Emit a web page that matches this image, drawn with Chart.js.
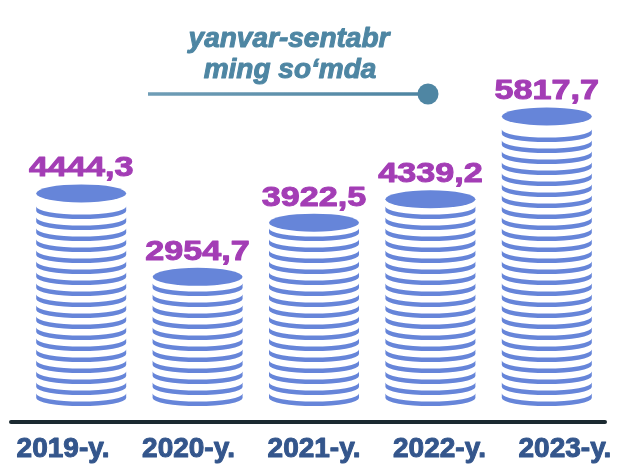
<!DOCTYPE html>
<html>
<head>
<meta charset="utf-8">
<script src="https://cdn.jsdelivr.net/npm/chart.js@4"></script>
<style>
  body { margin: 0; background: #fff; }
  #wrap { width: 620px; height: 464px; }
</style>
</head>
<body>
<div id="wrap"><canvas id="coins" width="620" height="464"></canvas></div>
<script>
    // data
    const years = ['2019-y.', '2020-y.', '2021-y.', '2022-y.', '2023-y.'];
    const amounts = [4444.3, 2954.7, 3922.5, 4339.2, 5817.7];
    const amountLabels = ['4444,3', '2954,7', '3922,5', '4339,2', '5817,7'];
    const titleLines = ['yanvar-sentabr', 'ming so\u2018mda'];

    // the stacks in the picture do not start at zero
    const scaleMin = 650;
    const scaleMax = 7700;

    const coinColor = '#6685d9';
    const valueColor = '#a33db5';
    const yearColor = '#34568c';
    const titleColor = '#4e86a3';
    const fontFamily = '"Liberation Sans", Arial, sans-serif';

    const coinCanvas = document.getElementById('coins');

    // draws one stack of coins over a bar element, from the bottom up
    function drawStack(ctx, bar) {
        const rx = bar.width / 2;
        const ry = 8;
        const rim = 4.5;
        const gap = 11;
        ctx.fillStyle = coinColor;
        for (let cy = bar.base - ry; cy >= bar.y + 7; cy -= gap) {
            ctx.beginPath();
            ctx.ellipse(bar.x, cy, rx, ry, 0, 0, Math.PI, false);
            ctx.ellipse(bar.x, cy - rim, rx, ry, 0, Math.PI, 0, true);
            ctx.closePath();
            ctx.fill();
        }
        ctx.beginPath();
        ctx.ellipse(bar.x, bar.y, rx, 9, 0, 0, Math.PI * 2);
        ctx.fill();
    }

    // bold text with a thin outline in the same colour, so it looks heavier
    function heavyText(ctx, text, x, y, color) {
        ctx.fillStyle = color;
        ctx.strokeStyle = color;
        ctx.lineWidth = 1;
        ctx.lineJoin = 'round';
        ctx.fillText(text, x, y);
        ctx.strokeText(text, x, y);
    }

    const coinPlugin = {
        id: 'coinStacks',
        afterDatasetsDraw(chart) {
            const ctx = chart.ctx;
            const area = chart.chartArea;
            const meta = chart.getDatasetMeta(0);
            const mid = (area.left + area.right) / 2;

            ctx.save();
            meta.data.forEach((bar, i) => {
                drawStack(ctx, bar);

                // value above the stack, a bit stretched like the original
                ctx.save();
                ctx.translate(bar.x, bar.y - 17);
                ctx.scale(1.22, 1);
                ctx.font = 'bold 28px ' + fontFamily;
                ctx.textAlign = 'center';
                ctx.textBaseline = 'alphabetic';
                heavyText(ctx, amountLabels[i], 0, 0, valueColor);
                ctx.restore();

                // year under the base line, spread a little wider than the stacks
                ctx.font = 'bold 28px ' + fontFamily;
                ctx.textAlign = 'center';
                heavyText(ctx, years[i], mid + (bar.x - mid) * 1.078, area.bottom + 51, yearColor);
            });

            // base line
            ctx.strokeStyle = '#1b2a31';
            ctx.lineWidth = 4;
            ctx.lineCap = 'round';
            ctx.beginPath();
            ctx.moveTo(11, area.bottom + 16);
            ctx.lineTo(605, area.bottom + 16);
            ctx.stroke();

            // title with pointer line
            ctx.font = 'italic bold 28px ' + fontFamily;
            ctx.textAlign = 'center';
            ctx.lineCap = 'butt';
            heavyText(ctx, titleLines[0], 289, 47, titleColor);
            heavyText(ctx, titleLines[1], 290, 78, titleColor);

            const grad = ctx.createLinearGradient(148, 0, 428, 0);
            grad.addColorStop(0, '#6f9db6');
            grad.addColorStop(1, '#4d84a1');
            ctx.strokeStyle = grad;
            ctx.lineWidth = 3.5;
            ctx.beginPath();
            ctx.moveTo(148, 94);
            ctx.lineTo(425, 94);
            ctx.stroke();
            ctx.fillStyle = '#4f86a3';
            ctx.beginPath();
            ctx.arc(428, 94, 10.5, 0, Math.PI * 2);
            ctx.fill();
            ctx.restore();
        }
    };

    let coinChart = new Chart(coinCanvas, {
        type: 'bar',
        data: {
            labels: years,
            datasets: [{
                data: amounts,
                base: scaleMin,
                backgroundColor: 'rgba(0,0,0,0)',
                borderWidth: 0,
                categoryPercentage: 1,
                barPercentage: 0.773
            }]
        },
        options: {
            responsive: false,
            animation: false,
            layout: {
                padding: { left: 23, right: 15, top: 11, bottom: 58 }
            },
            scales: {
                x: { display: false },
                y: { display: false, min: scaleMin, max: scaleMax }
            },
            plugins: {
                legend: { display: false },
                tooltip: { enabled: false }
            }
        },
        plugins: [coinPlugin]
    });
</script>
</body>
</html>
